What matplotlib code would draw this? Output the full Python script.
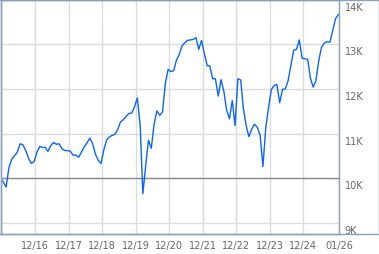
import matplotlib
matplotlib.use('Agg')
import matplotlib.pyplot as plt
import matplotlib.dates as mdates
import matplotlib.transforms as mtransforms
from matplotlib.patches import Rectangle
import pandas as pd

# growth of 10K, one reading per month
valores = [10000, 9910, 9800, 10230, 10420, 10500, 10580, 10770, 10750, 10620,
           10450, 10330, 10370, 10580, 10710, 10690, 10690, 10600, 10730, 10800,
           10760, 10770, 10660, 10620, 10620, 10600, 10510, 10520, 10470, 10580,
           10700, 10790, 10900, 10770, 10540, 10400, 10330, 10640, 10860, 10920,
           10960, 10980, 11090, 11260, 11310, 11390, 11450, 11460, 11600, 11800,
           11180, 9650, 10280, 10850, 10670, 11200, 11510, 11410, 11480, 12120,
           12440, 12390, 12410, 12640, 12770, 12960, 13040, 13090, 13100, 13110,
           13150, 12890, 13090, 12790, 12520, 12520, 12230, 12230, 11840, 12210,
           11950, 11520, 11330, 11740, 11180, 12230, 12200, 11580, 11180, 10930,
           11100, 11210, 11140, 10960, 10260, 11130, 11580, 11990, 12080, 12100,
           11690, 11990, 12000, 12180, 12530, 12870, 12890, 13100, 12690, 12680,
           12660, 12250, 12040, 12190, 12640, 12940, 13030, 13060, 13050, 13320,
           13580, 13670]
fechas = pd.date_range('2015-12-01', periods=len(valores), freq='MS') - pd.Timedelta(days=12)

ticks_x = ['2016-12-01', '2017-12-01', '2018-12-01', '2019-12-01', '2020-12-01',
           '2021-12-01', '2022-12-01', '2023-12-01', '2024-12-01', '2026-01-01']
etiquetas_x = ['12/16', '12/17', '12/18', '12/19', '12/20', '12/21', '12/22', '12/23', '12/24', '01/26']
ticks_y = [9000, 10000, 11000, 12000, 13000, 14000]
etiquetas_y = ['9K', '10K', '11K', '12K', '13K', '14K']
base = 10000

W, H = 379, 255
fig = plt.figure(figsize=(W / 100, H / 100), dpi=100)
ax = fig.add_axes([0.5 / W, 20 / H, 339 / W, 234.5 / H])

borde = '#8a9fbb'
texto = '#666666'

ax.plot(fechas, valores, color='#0a64ff', lw=1.0, zorder=3)
ax.axhline(base, color='#8c8c8c', lw=1.0, zorder=2)

ax.set_xlim(fechas[0], pd.Timestamp('2026-01-01'))
ax.set_ylim(8747, 14007)

ax.set_xticks(pd.to_datetime(ticks_x))
ax.set_xticklabels(etiquetas_x, fontsize=7, color=texto)
ax.set_yticks(ticks_y)
ax.set_yticklabels([])
ax.tick_params(length=0, pad=4)
ax.grid(True, color='#dcdcdc', lw=1.0, zorder=1)
ax.set_axisbelow(True)
for s in ax.spines.values():
    s.set_color(borde)
    s.set_linewidth(1.0)

desp = mtransforms.ScaledTranslation(5 / 100, -2 / 100, fig.dpi_scale_trans)
for v, t in zip(ticks_y, etiquetas_y):
    ax.text(1.0, v, t, transform=ax.get_yaxis_transform() + desp,
            fontsize=7, color=texto, ha='left', va='top', clip_on=False)

# marco exterior que encierra tambien la columna de etiquetas
fig.patches.append(Rectangle((0.5 / W, 20 / H), 378 / W, 234.5 / H, transform=fig.transFigure,
                             fill=False, edgecolor=borde, lw=1.0))

fig.savefig('out.png', dpi=100)
